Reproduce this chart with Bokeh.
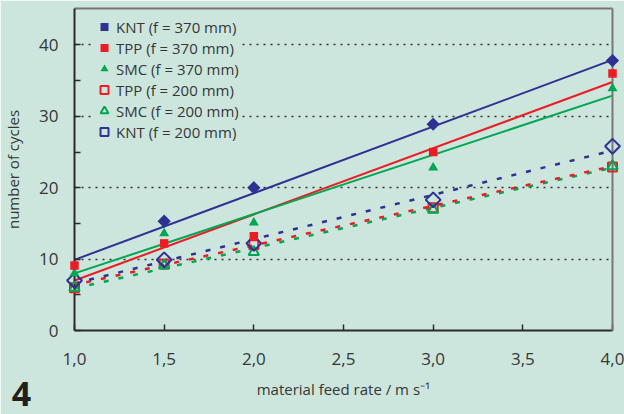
import numpy as np
from bokeh.plotting import figure
from bokeh.models import Range1d, FixedTicker, LinearAxis, Legend, LegendItem
from bokeh.embed import file_html
from bokeh.resources import INLINE

# ---------------- data ----------------
feed_rate = [1.0, 1.5, 2.0, 3.0, 4.0]
knt_370_x = [1.5, 2.0, 3.0, 4.0]
knt_370 = [15.3, 20.0, 28.9, 37.8]
tpp_370 = [9.1, 12.2, 13.2, 25.0, 36.0]
smc_370 = [8.0, 13.6, 15.1, 22.8, 33.9]
tpp_200 = [6.0, 9.3, 12.0, 17.2, 22.9]
smc_200 = [6.0, 9.1, 11.0, 16.9, 23.0]
knt_200 = [7.0, 9.9, 12.2, 18.3, 25.8]

# trend lines (values at both ends)
trend_x = [1.0, 4.0]
trend_knt_370 = [9.9, 37.9]
trend_tpp_370 = [7.0, 34.8]
trend_smc_370 = [8.0, 32.9]
trend_tpp_200 = [6.4, 23.0]
trend_smc_200 = [5.9, 22.8]
trend_knt_200 = [6.6, 25.2]

x_ticks = [1.0, 1.5, 2.0, 2.5, 3.0, 3.5, 4.0]
x_tick_labels = ["1,0", "1,5", "2,0", "2,5", "3,0", "3,5", "4,0"]
y_ticks = [0, 10, 20, 30, 40]
y_minor_ticks = [5, 15, 25, 35]
grid_values = [10, 20, 30, 40]

legend_labels = ["KNT (f = 370 mm)", "TPP (f = 370 mm)", "SMC (f = 370 mm)",
                 "TPP (f = 200 mm)", "SMC (f = 200 mm)", "KNT (f = 200 mm)"]
figure_number = "4"

# ---------------- styles ----------------
BG = "#cce6de"
BLUE = "#2e3192"
RED = "#ed1c24"
GREEN = "#00a651"
TEXT = "#363636"
FONT = "Open Sans"

W, H = 624, 414
BL, BR, BT, BB = 71, 12, 8, 84
X0, X1 = 1.0, 4.0
Y0, Y1 = 0.0, 45.1

p = figure(width=W, height=H, x_range=Range1d(X0, X1), y_range=Range1d(Y0, Y1),
           output_backend="svg", toolbar_location=None,
           min_border_left=BL, min_border_right=BR, min_border_top=BT, min_border_bottom=BB,
           background_fill_color=BG, border_fill_color=BG, outline_line_color=None)

# axes
xa = p.xaxis[0]
xa.ticker = FixedTicker(ticks=x_ticks, minor_ticks=[])
xa.major_label_overrides = {t: l for t, l in zip(x_ticks, x_tick_labels)}
ya = p.yaxis[0]
ya.ticker = FixedTicker(ticks=y_ticks, minor_ticks=y_minor_ticks)
for ax in (xa, ya):
    ax.axis_line_color = "#2b2b2b"
    ax.axis_line_width = 2
    ax.major_tick_in = 6
    ax.major_tick_out = 0
    ax.minor_tick_in = 6
    ax.minor_tick_out = 0
    ax.major_tick_line_color = "#2b2b2b"
    ax.minor_tick_line_color = "#2b2b2b"
    ax.major_tick_line_width = 1.5
    ax.minor_tick_line_width = 1.5
    ax.major_label_text_font = FONT
    ax.major_label_text_font_size = "17px"
    ax.major_label_text_color = TEXT
    ax.axis_label_text_font = FONT
    ax.axis_label_text_font_size = "15px"
    ax.axis_label_text_font_style = "normal"
    ax.axis_label_text_color = TEXT
xa.major_label_standoff = 22
xa.axis_label = "material feed rate / m s\u207b\u00b9"
xa.axis_label_standoff = 11
ya.major_label_standoff = 16
ya.axis_label = "number of cycles"
ya.axis_label_standoff = 13

# top and right frame lines
for place in ("above", "right"):
    fr = LinearAxis(ticker=FixedTicker(ticks=[]), axis_line_color="#777777", axis_line_width=2,
                    major_tick_in=0, major_tick_out=0, minor_tick_in=0, minor_tick_out=0,
                    major_label_text_font_size="0px", major_label_standoff=0)
    p.add_layout(fr, place)

# grid
p.xgrid.visible = False
p.ygrid.ticker = FixedTicker(ticks=grid_values)
p.ygrid.grid_line_color = "#333333"
p.ygrid.grid_line_width = 1.5
p.ygrid.grid_line_dash = "2 5"

# trend lines
p.line(trend_x, trend_knt_370, line_color=BLUE, line_width=2)
p.line(trend_x, trend_tpp_370, line_color=RED, line_width=2)
p.line(trend_x, trend_smc_370, line_color=GREEN, line_width=2)
p.line(trend_x, trend_smc_200, line_color=GREEN, line_width=2.5, line_dash="5 10")
p.line(trend_x, trend_tpp_200, line_color=RED, line_width=2.5, line_dash="5 10", line_dash_offset=3)
p.line(trend_x, trend_knt_200, line_color=BLUE, line_width=2.5, line_dash="5 10")

# markers (overlay level so that the ones on the frame edges are not cut)
r_tpp200 = p.scatter(feed_rate, tpp_200, marker="square", size=9, fill_color=None,
                     line_color=RED, line_width=2, level="overlay")
r_smc200 = p.scatter(feed_rate, smc_200, marker="triangle", size=10.5, fill_color=None,
                     line_color=GREEN, line_width=2, level="overlay")
r_knt200 = p.scatter(feed_rate, knt_200, marker="square", angle=np.pi / 4, size=10.5,
                     fill_color=None, line_color=BLUE, line_width=2, level="overlay")
r_smc370 = p.scatter(feed_rate, smc_370, marker="triangle", size=10, fill_color=GREEN,
                     line_color=None, level="overlay")
r_tpp370 = p.scatter(feed_rate, tpp_370, marker="square", size=8.5, fill_color=RED,
                     line_color=None, level="overlay")
r_knt370 = p.scatter(knt_370_x, knt_370, marker="square", angle=np.pi / 4, size=9.4,
                     fill_color=BLUE, line_color=None, level="overlay")

renderers = [r_knt370, r_tpp370, r_smc370, r_tpp200, r_smc200, r_knt200]
legend = Legend(items=[LegendItem(label=l, renderers=[r]) for l, r in zip(legend_labels, renderers)],
                location=(20, 188), margin=0, padding=4, spacing=0,
                glyph_width=20, glyph_height=21, label_height=21, label_standoff=2,
                label_text_font=FONT, label_text_font_size="15px", label_text_color=TEXT,
                background_fill_color=BG, background_fill_alpha=1.0, border_line_color=None)
p.add_layout(legend)

# figure number "4" in the lower-left corner (pixel offsets converted to range units)
frame_w = W - BL - BR
frame_h = H - BT - BB
num_x = X0 + (8 - BL) * (X1 - X0) / frame_w
num_y = Y0 - (393 - (H - BB)) * (Y1 - Y0) / frame_h
p.text(x=[num_x], y=[num_y], text=[figure_number], text_font_size="34px",
       text_font_style="bold", text_color="#231f20", text_align="left",
       text_baseline="alphabetic", level="overlay",
       text_font={"value": FONT})

open("out.html", "w").write(file_html(p, INLINE))
